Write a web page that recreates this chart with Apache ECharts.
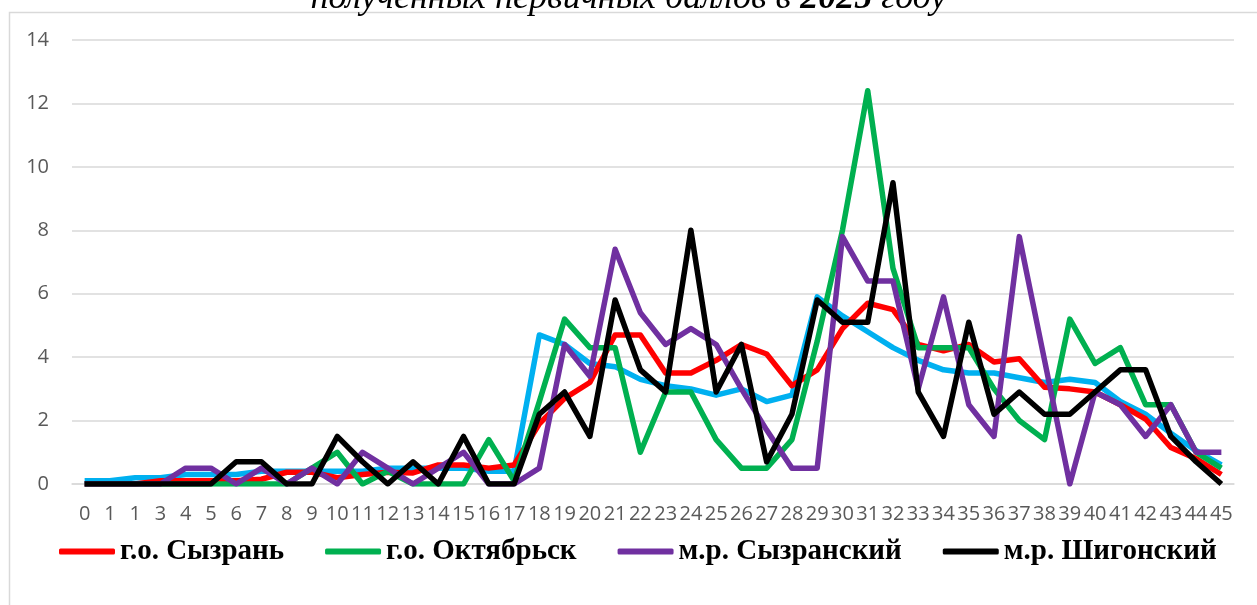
<!DOCTYPE html>
<html>
<head>
<meta charset="utf-8">
<script src="https://cdn.jsdelivr.net/npm/echarts@6/dist/echarts.min.js"></script>
<style>
  html, body { margin: 0; padding: 0; background: #fff; }
  #chart { width: 1257px; height: 605px; }
</style>
</head>
<body>
<div id="chart"></div>
<script>
// Первичные баллы 0..45 (в подписи оси третья метка "1", как в оригинале)
const scoreLabels = ['0', '1', '1', '3', '4', '5', '6', '7', '8', '9', '10', '11', '12', '13', '14', '15',
    '16', '17', '18', '19', '20', '21', '22', '23', '24', '25', '26', '27', '28', '29', '30', '31',
    '32', '33', '34', '35', '36', '37', '38', '39', '40', '41', '42', '43', '44', '45'];

const yTicks = { min: 0, max: 14, interval: 2 };

const syzran = [0, 0, 0, 0.1, 0.1, 0.1, 0.1, 0.15, 0.37, 0.37, 0.2, 0.3, 0.37, 0.35, 0.6, 0.6,
    0.5, 0.6, 1.9, 2.7, 3.2, 4.7, 4.7, 3.5, 3.5, 3.9, 4.4, 4.1, 3.1, 3.6, 4.9, 5.7,
    5.5, 4.4, 4.2, 4.4, 3.85, 3.95, 3.05, 3.0, 2.9, 2.5, 2.05, 1.15, 0.8, 0.3];

const oktyabrsk = [0, 0, 0, 0, 0, 0, 0, 0, 0, 0.5, 1.0, 0, 0.4, 0, 0, 0,
    1.4, 0.1, 2.6, 5.2, 4.3, 4.3, 1.0, 2.9, 2.9, 1.4, 0.5, 0.5, 1.4, 4.5, 8.0, 12.4,
    6.8, 4.3, 4.3, 4.3, 3.0, 2.0, 1.4, 5.2, 3.8, 4.3, 2.5, 2.5, 1.0, 0.5];

const syzranskiy = [0, 0, 0, 0, 0.5, 0.5, 0, 0.5, 0, 0.5, 0, 1.0, 0.5, 0, 0.5, 1.0,
    0, 0, 0.5, 4.4, 3.4, 7.4, 5.4, 4.4, 4.9, 4.4, 3.0, 1.7, 0.5, 0.5, 7.8, 6.4,
    6.4, 3.0, 5.9, 2.5, 1.5, 7.8, 3.9, 0, 2.9, 2.5, 1.5, 2.5, 1.0, 1.0];

const shigonskiy = [0, 0, 0, 0, 0, 0, 0.7, 0.7, 0, 0, 1.5, 0.7, 0, 0.7, 0, 1.5,
    0, 0, 2.2, 2.9, 1.5, 5.8, 3.6, 2.9, 8.0, 2.9, 4.4, 0.7, 2.2, 5.8, 5.1, 5.1,
    9.5, 2.9, 1.5, 5.1, 2.2, 2.9, 2.2, 2.2, 2.9, 3.6, 3.6, 1.5, 0.7, 0];

// пятая линия (голубая) — подпись в легенде обрезана
const region = [0.1, 0.1, 0.2, 0.2, 0.3, 0.3, 0.3, 0.4, 0.4, 0.4, 0.4, 0.4, 0.5, 0.5, 0.5, 0.5,
    0.4, 0.4, 4.7, 4.4, 3.8, 3.7, 3.3, 3.1, 3.0, 2.8, 3.0, 2.6, 2.8, 5.9, 5.3, 4.8,
    4.3, 3.9, 3.6, 3.5, 3.5, 3.35, 3.2, 3.3, 3.2, 2.6, 2.2, 1.6, 1.05, 0.6];

const legendNames = ['г.о. Сызрань', 'г.о. Октябрьск', 'м.р. Сызранский', 'м.р. Шигонский'];

function lineSeries(name, data, color) {
    return {
        name: name, type: 'line', data: data,
        showSymbol: false, symbol: 'none',
        lineStyle: { color: color, width: 5.5, join: 'round' },
        itemStyle: { color: color },
        animation: false
    };
}

const chart = echarts.init(document.getElementById('chart'));

chart.setOption({
    backgroundColor: '#fff',
    title: {
        text: '{a|полученных первичных баллов в }{b|2025}{a| году}',
        left: 'center', top: -24,
        textStyle: {
            fontWeight: 'normal', fontStyle: 'italic',
            rich: {
                a: { fontFamily: 'Liberation Serif', fontStyle: 'italic', fontWeight: 'normal', fontSize: 36, color: '#000' },
                b: { fontFamily: 'Liberation Serif', fontStyle: 'italic', fontWeight: 'bold', fontSize: 36, color: '#000' }
            }
        }
    },
    graphic: [{
        type: 'rect', silent: true, z: -10,
        shape: { x: 9.5, y: 12.5, width: 1400, height: 700 },
        style: { fill: 'none', stroke: '#d9d9d9', lineWidth: 1.5 }
    }],
    legend: {
        data: legendNames,
        left: 59, top: 537, padding: 0,
        icon: 'roundRect',
        itemWidth: 56, itemHeight: 6, itemGap: 41,
        textStyle: { fontFamily: 'Liberation Serif', fontWeight: 'bold', fontSize: 29, color: '#000' }
    },
    grid: { left: 72, right: 23, top: 40, bottom: 121 },
    xAxis: {
        type: 'category', data: scoreLabels, boundaryGap: true,
        axisLine: { lineStyle: { color: '#d9d9d9', width: 1.5 } },
        axisTick: { show: false },
        axisLabel: { interval: 0, color: '#595959', fontFamily: 'Open Sans', fontSize: 20, margin: 20 }
    },
    yAxis: {
        type: 'value', min: yTicks.min, max: yTicks.max, interval: yTicks.interval,
        axisLine: { show: false },
        axisTick: { show: false },
        splitLine: { lineStyle: { color: '#d9d9d9', width: 1.5 } },
        axisLabel: { color: '#595959', fontFamily: 'Open Sans', fontSize: 20, margin: 23 }
    },
    series: [
        lineSeries('Самарская область', region, '#00b0f0'),
        lineSeries('г.о. Сызрань', syzran, '#ff0000'),
        lineSeries('г.о. Октябрьск', oktyabrsk, '#00b050'),
        lineSeries('м.р. Сызранский', syzranskiy, '#7030a0'),
        lineSeries('м.р. Шигонский', shigonskiy, '#000000')
    ]
});

window.addEventListener('resize', () => chart.resize());
</script>
</body>
</html>
